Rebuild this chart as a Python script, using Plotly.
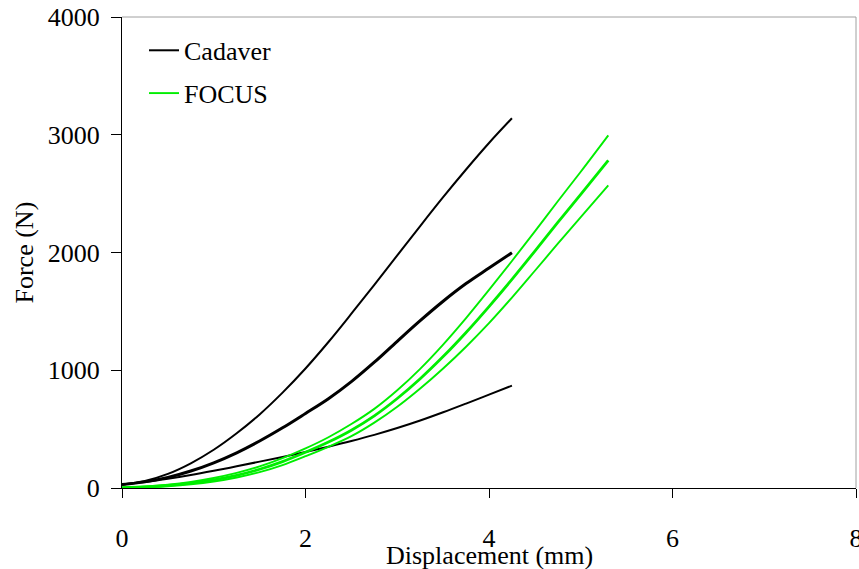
import plotly.graph_objects as go

# Displacement (mm)
cad_x = [0, 0.25, 0.5, 0.75, 1, 1.25, 1.5, 1.75, 2, 2.25, 2.5, 2.75, 3, 3.25, 3.5, 3.75, 4, 4.25]
# Force (N)
cad1_y = [30, 60, 120, 210, 325, 465, 625, 810, 1015, 1240, 1480, 1725, 1975, 2225, 2470, 2705, 2930, 3140]
cad2_y = [30, 52, 90, 144, 214, 299, 399, 511, 633, 758, 903, 1068, 1246, 1421, 1586, 1736, 1868, 1998]
cad3_y = [30, 50, 78, 110, 146, 184, 224, 264, 306, 351, 399, 451, 509, 573, 643, 717, 793, 869]

foc_x = [0, 0.25, 0.5, 0.75, 1, 1.25, 1.5, 1.75, 2, 2.25, 2.5, 2.75, 3, 3.25, 3.5, 3.75, 4, 4.25, 4.5, 4.75, 5, 5.3]
foc1_y = [5, 13, 28, 52, 85, 128, 183, 253, 336, 431, 543, 672, 830, 1012, 1218, 1443, 1682, 1928, 2180, 2435, 2686, 2995]
foc2_y = [3, 9, 22, 42, 70, 108, 159, 224, 303, 390, 491, 613, 760, 928, 1116, 1321, 1541, 1772, 2012, 2255, 2493, 2782]
foc3_y = [0, 5, 15, 31, 55, 89, 135, 195, 270, 350, 440, 555, 690, 845, 1015, 1200, 1400, 1617, 1845, 2075, 2300, 2570]

x_ticks = [0, 2, 4, 6, 8]
y_ticks = [0, 1000, 2000, 3000, 4000]

GREEN = "#00ee00"
FONT = "Liberation Serif"
FS = 26

fig = go.Figure()

cad_series = [(cad1_y, 2.0, True), (cad2_y, 3.0, False), (cad3_y, 2.0, False)]
for ys, w, leg in cad_series:
    fig.add_trace(go.Scatter(x=cad_x, y=ys, mode="lines", name="Cadaver",
                             line=dict(color="black", width=w, shape="spline", smoothing=1.0),
                             legendgroup="cad", showlegend=leg))

foc_series = [(foc1_y, 1.9, True), (foc2_y, 2.8, False), (foc3_y, 1.9, False)]
for ys, w, leg in foc_series:
    fig.add_trace(go.Scatter(x=foc_x, y=ys, mode="lines", name="FOCUS",
                             line=dict(color=GREEN, width=w, shape="spline", smoothing=1.0),
                             legendgroup="foc", showlegend=leg))

fig.update_layout(
    width=859, height=569,
    margin=dict(l=122, r=3, t=17, b=81),
    paper_bgcolor="white", plot_bgcolor="white",
    font=dict(family=FONT, size=FS, color="black"),
    showlegend=True,
    legend=dict(x=0.03, y=0.979, xanchor="left", yanchor="top",
                bgcolor="rgba(0,0,0,0)", font=dict(size=FS, family=FONT),
                traceorder="grouped", tracegroupgap=6, itemwidth=30),
    xaxis=dict(range=[0, 8], tickvals=x_ticks, showgrid=False, zeroline=False,
               showline=True, linecolor="black", linewidth=1,
               ticks="outside", ticklen=9, tickcolor="black",
               ticklabelstandoff=18, ticklabeloverflow="allow", automargin=False,
               tickfont=dict(size=FS, family=FONT)),
    yaxis=dict(range=[0, 4000], tickvals=y_ticks, showgrid=False, zeroline=False,
               showline=True, linecolor="black", linewidth=1,
               ticks="outside", ticklen=10, tickcolor="black", automargin=False,
               ticklabelstandoff=6, tickfont=dict(size=FS, family=FONT)),
    shapes=[
        dict(type="line", xref="paper", yref="paper", x0=0, x1=1, y0=1, y1=1,
             line=dict(color="#a0a0a0", width=1)),
        dict(type="line", xref="paper", yref="paper", x0=1, x1=1, y0=0, y1=1,
             line=dict(color="#a0a0a0", width=1)),
    ],
    annotations=[
        dict(text="Displacement (mm)", xref="paper", yref="paper",
             x=0.5, y=-(555 - 488) / 471, xanchor="center", yanchor="middle",
             showarrow=False, font=dict(size=FS, family=FONT)),
        dict(text="Force (N)", xref="paper", yref="paper", textangle=-90,
             x=(24 - 122) / 734, y=0.5, xanchor="center", yanchor="middle",
             showarrow=False, font=dict(size=FS, family=FONT)),
    ],
)

fig.write_html("out.html")
